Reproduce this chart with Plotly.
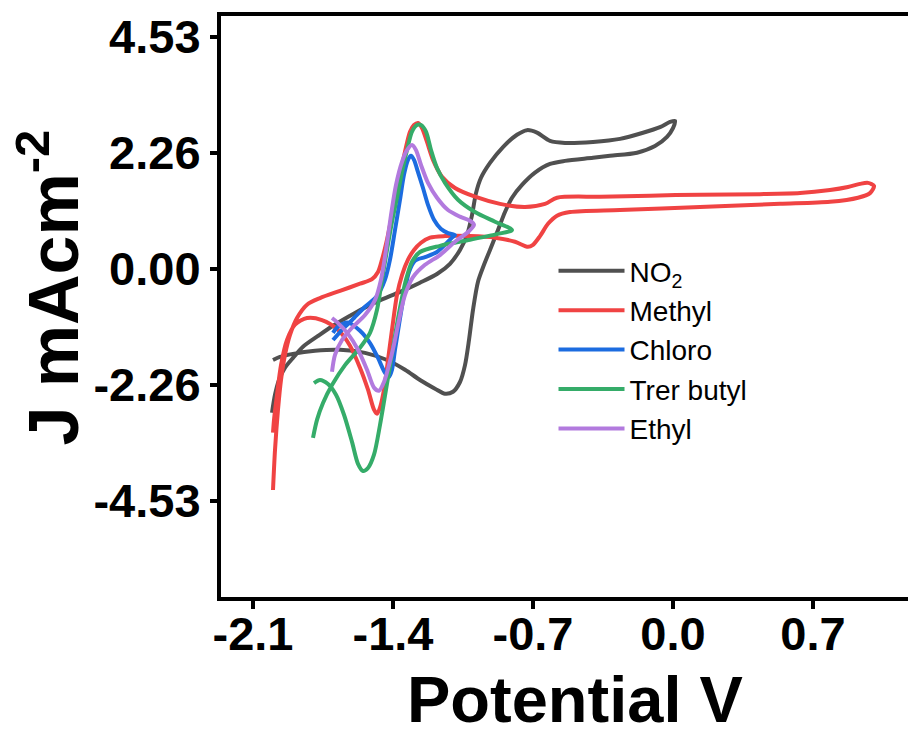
import plotly.graph_objects as go

# ---- data (Potential V, J mA cm^-2) ----
no2_v = [-2.005, -1.99, -1.97, -1.94, -1.90, -1.85, -1.775, -1.70, -1.59, -1.48, -1.365, -1.265, -1.18,
         -1.115, -1.065, -1.03, -1.005, -0.985, -0.96, -0.915, -0.85, -0.78, -0.73, -0.68, -0.615, -0.54,
         -0.40, -0.265, -0.15, -0.065, -0.015, 0.01, 0.00, -0.03, -0.09, -0.18, -0.315, -0.40, -0.54,
         -0.615, -0.69, -0.755, -0.805, -0.84, -0.875, -0.915, -0.945, -0.975, -1.00, -1.02, -1.04,
         -1.065, -1.10, -1.14, -1.19, -1.265, -1.34, -1.43, -1.54, -1.665, -1.79, -1.90, -1.965, -2.00]
no2_j = [-2.81, -2.46, -2.17, -1.93, -1.74, -1.52, -1.31, -1.11, -0.86, -0.64, -0.45, -0.27, -0.10,
         0.10, 0.37, 0.66, 1.05, 1.48, 1.78, 2.07, 2.38, 2.62, 2.71, 2.66, 2.50, 2.46,
         2.48, 2.54, 2.66, 2.77, 2.87, 2.89, 2.75, 2.58, 2.40, 2.27, 2.21, 2.17, 2.11,
         2.05, 1.88, 1.64, 1.39, 1.11, 0.76, 0.37, 0.08, -0.25, -0.80, -1.39, -1.88,
         -2.21, -2.40, -2.44, -2.34, -2.17, -1.97, -1.78, -1.64, -1.58, -1.60, -1.66, -1.72, -1.78]

methyl_v = [-2.00, -1.99, -1.975, -1.96, -1.94, -1.915, -1.88, -1.83, -1.765, -1.665, -1.565, -1.505,
            -1.475, -1.455, -1.43, -1.40, -1.37, -1.34, -1.315, -1.295, -1.275, -1.255, -1.23, -1.20,
            -1.155, -1.09, -0.99, -0.865, -0.74, -0.64, -0.58, -0.365, -0.115, 0.135, 0.435, 0.635,
            0.785, 0.875, 0.935, 0.975, 1.005, 0.985, 0.925, 0.785, 0.535, 0.135, -0.265, -0.515,
            -0.58, -0.625, -0.665, -0.70, -0.725, -0.79, -0.89, -1.015, -1.14, -1.215, -1.26, -1.295,
            -1.325, -1.355, -1.38, -1.405, -1.425, -1.445, -1.465, -1.48, -1.495, -1.525, -1.565,
            -1.615, -1.675, -1.755, -1.83, -1.89, -1.93, -1.96, -1.98, -1.995, -2.00]
methyl_j = [-4.32, -3.54, -2.75, -2.17, -1.68, -1.29, -0.96, -0.70, -0.57, -0.43, -0.29, -0.20,
            -0.06, 0.18, 0.57, 1.15, 1.74, 2.29, 2.68, 2.81, 2.85, 2.75, 2.48, 2.13,
            1.80, 1.58, 1.41, 1.27, 1.21, 1.27, 1.39, 1.41, 1.43, 1.45, 1.46, 1.48,
            1.54, 1.60, 1.66, 1.68, 1.62, 1.48, 1.39, 1.31, 1.27, 1.21, 1.15, 1.11,
            1.04, 0.88, 0.64, 0.47, 0.43, 0.53, 0.61, 0.64, 0.64, 0.61, 0.51, 0.37,
            0.18, -0.12, -0.51, -1.19, -1.78, -2.36, -2.71, -2.83, -2.75, -2.36, -1.93,
            -1.50, -1.19, -1.00, -0.96, -1.09, -1.39, -1.88, -2.46, -2.95, -3.20]

chloro_v = [-1.70, -1.655, -1.605, -1.54, -1.48, -1.44, -1.415, -1.39, -1.365, -1.345, -1.325, -1.31,
            -1.295, -1.275, -1.25, -1.225, -1.195, -1.16, -1.125, -1.09, -1.105, -1.14, -1.18, -1.24,
            -1.29, -1.32, -1.345, -1.37, -1.39, -1.405, -1.42, -1.44, -1.475, -1.515, -1.565, -1.625,
            -1.675, -1.70]
chloro_j = [-1.39, -1.19, -1.00, -0.74, -0.53, -0.21, 0.18, 0.76, 1.35, 1.84, 2.13, 2.21,
            2.13, 1.89, 1.58, 1.25, 0.96, 0.78, 0.70, 0.66, 0.61, 0.47, 0.33, 0.23,
            0.16, -0.06, -0.51, -1.09, -1.58, -1.97, -2.11, -2.03, -1.74, -1.45, -1.21, -1.05,
            -1.13, -1.25]

tbutyl_v = [-1.80, -1.78, -1.75, -1.705, -1.64, -1.565, -1.515, -1.48, -1.455, -1.43, -1.405, -1.38,
            -1.355, -1.33, -1.305, -1.28, -1.26, -1.235, -1.21, -1.18, -1.14, -1.075, -0.99, -0.89,
            -0.805, -0.88, -1.015, -1.165, -1.265, -1.305, -1.335, -1.36, -1.385, -1.41, -1.435,
            -1.465, -1.495, -1.525, -1.55, -1.575, -1.605, -1.645, -1.685, -1.725, -1.765, -1.795]
tbutyl_j = [-3.30, -2.95, -2.62, -2.27, -1.88, -1.54, -1.25, -0.80, -0.21, 0.37, 0.92, 1.39,
            1.89, 2.32, 2.68, 2.81, 2.81, 2.68, 2.32, 1.97, 1.68, 1.35, 1.11, 0.92,
            0.76, 0.68, 0.57, 0.45, 0.33, 0.14, -0.21, -0.66, -1.19, -1.78, -2.36,
            -3.05, -3.63, -3.89, -3.95, -3.81, -3.38, -2.85, -2.46, -2.25, -2.17, -2.23]

ethyl_v = [-1.705, -1.69, -1.655, -1.605, -1.54, -1.49, -1.46, -1.435, -1.41, -1.385, -1.355, -1.33,
           -1.305, -1.285, -1.26, -1.225, -1.18, -1.125, -1.065, -1.015, -0.995, -1.025, -1.09, -1.165,
           -1.24, -1.30, -1.34, -1.37, -1.395, -1.42, -1.445, -1.47, -1.495, -1.53, -1.575, -1.625,
           -1.68, -1.705]
ethyl_j = [-2.01, -1.68, -1.39, -1.15, -0.90, -0.61, -0.21, 0.37, 1.05, 1.64, 2.09, 2.32,
           2.42, 2.32, 2.03, 1.68, 1.39, 1.15, 1.02, 0.94, 0.86, 0.72, 0.53, 0.27,
           0.08, -0.16, -0.51, -1.00, -1.48, -1.88, -2.21, -2.38, -2.32, -1.97, -1.58, -1.27,
           -1.04, -0.96]

series_names = ["NO<sub>2</sub>", "Methyl", "Chloro", "Trer butyl", "Ethyl"]
series_v = [no2_v, methyl_v, chloro_v, tbutyl_v, ethyl_v]
series_j = [no2_j, methyl_j, chloro_j, tbutyl_j, ethyl_j]
series_colors = ["#505050", "#f04343", "#1c6ce0", "#35ac69", "#b27ade"]

x_ticks = [-2.1, -1.4, -0.7, 0.0, 0.7]
x_ticktext = ["-2.1", "-1.4", "-0.7", "0.0", "0.7"]
y_ticks = [4.53, 2.265, 0.0, -2.265, -4.53]
y_ticktext = ["4.53", "2.26", "0.00", "-2.26", "-4.53"]
x_title = "Potential V"
y_title = "J mAcm<sup>-2</sup>"

fig = go.Figure()
for i, (name, v, j, c) in enumerate(zip(series_names, series_v, series_j, series_colors)):
    fig.add_trace(go.Scatter(
        x=v, y=j, mode="lines", name=name, legendgroup=str(i),
        line=dict(color=c, width=4, shape="spline", smoothing=0.8),
    ))

font_family = "Liberation Sans, Arial, sans-serif"
tick_font = dict(size=47, family=font_family, color="black", weight="bold")

fig.add_annotation(text=x_title, xref="paper", yref="paper", x=0.515, y=-0.176,
                   xanchor="center", yanchor="middle", showarrow=False,
                   font=dict(size=65, family=font_family, color="black", weight="bold"))
fig.add_annotation(text=y_title, xref="paper", yref="paper", x=-0.25, y=0.533,
                   xanchor="center", yanchor="middle", showarrow=False, textangle=-90,
                   font=dict(size=70, family=font_family, color="black", weight="bold"))

fig.update_layout(
    width=900, height=715,
    margin=dict(l=213, r=0, t=8, b=126, autoexpand=False),
    paper_bgcolor="white", plot_bgcolor="white",
    font=dict(family=font_family, color="black"),
    showlegend=True,
    legend=dict(
        x=0.484, y=0.604, xanchor="left", yanchor="top",
        font=dict(size=28, family=font_family, color="black"),
        itemwidth=66, tracegroupgap=0, bgcolor="rgba(0,0,0,0)",
        traceorder="grouped",
    ),
    xaxis=dict(
        range=[-2.26, 1.175], tickvals=x_ticks, ticktext=x_ticktext,
        showgrid=False, zeroline=False, automargin=False,
        showline=True, linecolor="black", linewidth=4, mirror=True,
        ticks="outside", ticklen=8, tickwidth=4, tickcolor="black",
        ticklabelstandoff=-15,
        tickfont=tick_font,
    ),
    yaxis=dict(
        range=[-6.41, 4.94], tickvals=y_ticks, ticktext=y_ticktext,
        showgrid=False, zeroline=False, automargin=False,
        showline=True, linecolor="black", linewidth=4, mirror=False,
        ticks="outside", ticklen=7, tickwidth=4, tickcolor="black",
        ticklabelstandoff=0,
        tickfont=tick_font,
    ),
)

fig.write_html("out.html")
